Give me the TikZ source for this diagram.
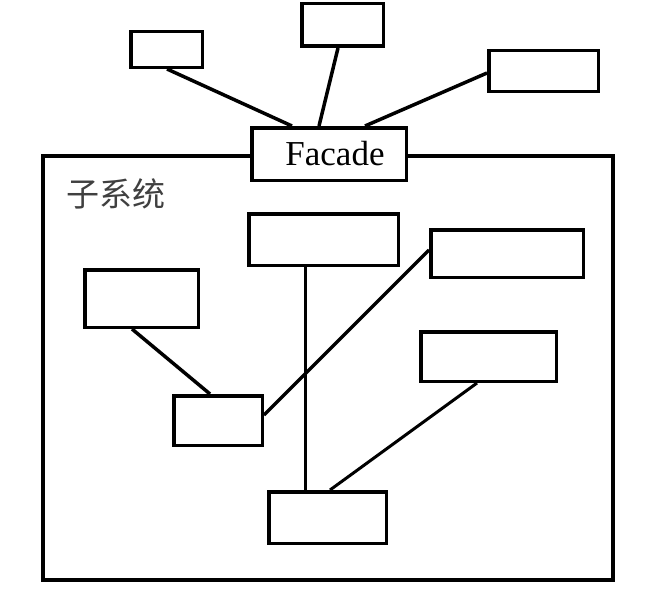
\documentclass[tikz,border=0pt]{standalone}
\usepackage{fontspec}
\setmainfont{Liberation Serif}
\newfontfamily\cjk{Noto Sans CJK SC}
\begin{document}
\begin{tikzpicture}[x=1pt,y=-1pt,
  box/.style={draw=black,line width=3.5pt,fill=white,inner sep=0pt,rectangle},
  link/.style={draw=black,line width=3.5pt},
  thinlink/.style={draw=black,line width=3pt}]
\useasboundingbox (0,0) rectangle (650,594);
% subsystem frame
\node[draw=black,line width=4pt,inner sep=0pt,minimum width=570pt,minimum height=424pt] (sys) at (328,368) {};
\node[text=black!75,font=\cjk\fontsize{33}{38}\selectfont,inner sep=0pt] (lbl) at (116,194) {子系统};
% facade and clients
\node[box,minimum width=154.5pt,minimum height=52.5pt,font=\fontsize{35}{40}\selectfont] (fac) at (329,154) {\hspace*{12pt}Facade};
\node[box,minimum width=71.5pt,minimum height=35.5pt] (tl) at (166.5,49.5) {};
\node[box,minimum width=81.5pt,minimum height=42.5pt] (tm) at (342.5,25) {};
\node[box,minimum width=109.5pt,minimum height=40.5pt] (tr) at (543.5,71) {};
% subsystem classes
\node[box,minimum width=149.5pt,minimum height=51.5pt] (a) at (323.5,239.5) {};
\node[box,minimum width=152.5pt,minimum height=47.5pt] (b) at (507,253.5) {};
\node[box,minimum width=113.5pt,minimum height=57.5pt] (c) at (141.5,298.5) {};
\node[box,minimum width=135.5pt,minimum height=49.5pt] (d) at (488.5,356.5) {};
\node[box,minimum width=88.5pt,minimum height=49.5pt] (e) at (218,420.5) {};
\node[box,minimum width=117.5pt,minimum height=51.5pt] (f) at (327.5,517.5) {};
% connectors
\draw[link] ([xshift=0.5pt]tl.south) -- ([xshift=-37pt]fac.north);
\draw[link] ([xshift=-4.5pt]tm.south) -- ([xshift=-10pt]fac.north);
\draw[link] ([yshift=-2pt]tr.west) -- ([xshift=36pt]fac.north);
\draw[thinlink] ([xshift=-18.5pt]a.south) -- ([xshift=-22.5pt]f.north);
\draw[link] ([yshift=3.5pt]b.west) -- ([yshift=5.5pt]e.east);
\draw[link] ([xshift=-9.5pt]c.south) -- ([xshift=-8pt]e.north);
\draw[thinlink] ([xshift=-11.5pt]d.south) -- ([xshift=2.5pt]f.north);
\end{tikzpicture}
\end{document}
